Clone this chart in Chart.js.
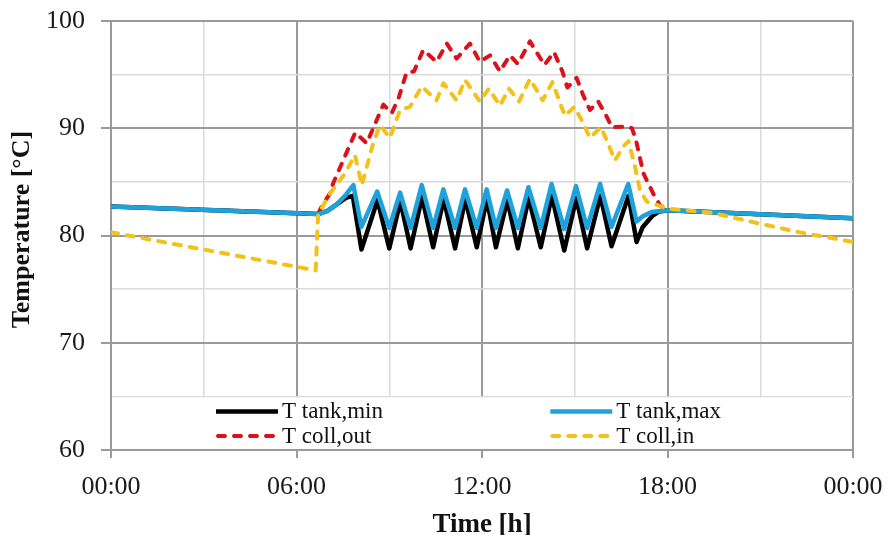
<!DOCTYPE html>
<html>
<head>
<meta charset="utf-8">
<script src="https://cdn.jsdelivr.net/npm/chart.js@4"></script>
<style>
  body { margin: 0; background: #fff; }
</style>
</head>
<body>
<canvas id="chart" width="888" height="535"></canvas>
<script>
// Series, hour of day -> temperature in degC
var tankMinHours = [0, 6.7, 7.0, 7.3, 7.6, 7.82, 8.1, 8.62, 9.0, 9.36, 9.69, 10.06, 10.42, 10.76, 11.13, 11.46, 11.83, 12.16, 12.45, 12.82, 13.16, 13.51, 13.9, 14.26, 14.66, 15.05, 15.4, 15.83, 16.19, 16.74, 17.0, 17.2, 17.5, 17.7, 18.0, 24];
var tankMinTemp  = [82.7, 82.0, 82.3, 82.9, 83.5, 83.7, 78.7, 83.3, 78.8, 83.2, 78.8, 83.6, 78.9, 83.4, 78.8, 83.4, 78.9, 83.4, 78.9, 83.3, 78.8, 83.5, 78.9, 83.7, 78.6, 83.5, 78.8, 83.7, 79.0, 83.7, 79.4, 80.8, 81.8, 82.2, 82.35, 81.6];

var tankMaxHours = [0, 6.7, 7.0, 7.3, 7.6, 7.84, 8.1, 8.61, 9.0, 9.35, 9.69, 10.05, 10.42, 10.75, 11.13, 11.45, 11.83, 12.15, 12.45, 12.81, 13.16, 13.5, 13.9, 14.25, 14.66, 15.04, 15.4, 15.82, 16.19, 16.73, 17.0, 17.2, 17.5, 18.0, 24];
var tankMaxTemp  = [82.7, 82.0, 82.3, 82.9, 83.8, 84.7, 80.8, 84.1, 80.7, 84.0, 80.7, 84.7, 80.7, 84.3, 80.7, 84.3, 80.7, 84.3, 80.7, 84.2, 80.7, 84.5, 80.7, 84.8, 80.6, 84.6, 80.7, 84.8, 80.8, 84.8, 81.3, 81.8, 82.2, 82.35, 81.6];

var collOutHours = [0, 6.7, 6.81, 7.08, 7.19, 7.51, 7.9, 8.27, 8.81, 9.08, 9.3, 9.56, 9.8, 10.1, 10.53, 10.86, 11.18, 11.61, 11.93, 12.26, 12.58, 12.9, 13.16, 13.55, 14.02, 14.33, 14.6, 14.76, 15.06, 15.27, 15.49, 15.76, 16.03, 16.2, 16.68, 16.85, 16.98, 17.22, 17.54, 17.76, 18.0, 24];
var collOutTemp  = [82.7, 82.0, 82.7, 83.9, 84.9, 87.0, 89.6, 88.6, 92.2, 91.4, 92.8, 95.2, 95.3, 97.3, 96.2, 97.9, 96.5, 97.9, 96.2, 96.8, 95.3, 96.8, 96.0, 98.1, 95.9, 97.1, 95.3, 93.8, 94.7, 93.1, 91.7, 92.5, 91.1, 90.1, 90.15, 90.0, 88.9, 85.8, 83.9, 82.8, 82.35, 81.6];

var collInHours = [0, 6.62, 6.7, 7.08, 7.57, 7.89, 8.11, 8.48, 8.7, 9.02, 9.35, 9.67, 10.05, 10.53, 10.75, 11.18, 11.45, 11.93, 12.22, 12.58, 12.87, 13.2, 13.55, 13.96, 14.28, 14.68, 14.99, 15.27, 15.49, 15.85, 16.03, 16.3, 16.57, 16.74, 16.95, 17.11, 17.33, 17.65, 18.0, 19.47, 20.99, 22.18, 24];
var collInTemp  = [80.3, 76.75, 82.0, 83.9, 85.8, 87.5, 84.7, 88.6, 90.3, 89.1, 91.7, 92.0, 93.9, 92.6, 94.2, 92.6, 94.5, 92.5, 93.7, 92.1, 93.7, 92.5, 94.6, 92.6, 94.3, 91.15, 92.0, 90.5, 89.1, 90.1, 88.9, 87.0, 88.3, 88.8, 86.4, 84.2, 83.15, 82.85, 82.5, 82.1, 81.1, 80.35, 79.4];

var seriesLabels = ['T tank,min', 'T tank,max', 'T coll,out', 'T coll,in'];

var xTickHours  = [0, 6, 12, 18, 24];
var xTickLabels = ['00:00', '06:00', '12:00', '18:00', '00:00'];
var xTitle = 'Time [h]';
var yTitle = 'Temperature [°C]';

var majorGrid = '#9a9a9a';
var minorGrid = '#dadada';
var serif = '"Liberation Serif", "Times New Roman", serif';

function pairs(hours, temps) {
  return hours.map(function (h, i) { return { x: h, y: temps[i] }; });
}

// legend sits in a white strip at the bottom of the plot, plus the axis titles
var legendStrip = {
  id: 'legendStrip',
  beforeDatasetsDraw: function (chart) {
    var ctx = chart.ctx, a = chart.chartArea;
    var top = chart.scales.y.getPixelForValue(65);
    ctx.save();
    ctx.fillStyle = '#fff';
    ctx.fillRect(a.left + 1, top + 1, a.right - a.left - 2, a.bottom - top - 2);
    ctx.restore();
  },
  afterDraw: function (chart) {
    var ctx = chart.ctx, a = chart.chartArea;
    var top = chart.scales.y.getPixelForValue(65);
    var h = a.bottom - top, w = a.right - a.left;
    var cols = [a.left + w * 0.1415, a.left + w * 0.592];
    var rows = [top + h * 0.28, top + h * 0.74];
    ctx.save();
    chart.data.datasets.forEach(function (ds, i) {
      var x = cols[i % 2], y = rows[Math.floor(i / 2)];
      ctx.beginPath();
      ctx.strokeStyle = ds.borderColor;
      ctx.lineWidth = ds.borderWidth;
      ctx.lineCap = ds.borderDash ? 'round' : 'butt';
      ctx.setLineDash(ds.borderDash || []);
      ctx.moveTo(x + (ds.borderDash ? 2 : 0), y);
      ctx.lineTo(x + 62, y);
      ctx.stroke();
      ctx.setLineDash([]);
      ctx.fillStyle = '#111';
      ctx.font = '23px ' + serif;
      ctx.textAlign = 'left';
      ctx.textBaseline = 'middle';
      ctx.fillText(ds.label, x + 66, y + 1);
    });

    ctx.fillStyle = '#111';
    ctx.font = 'bold 27px ' + serif;
    ctx.textAlign = 'center';
    ctx.textBaseline = 'alphabetic';
    ctx.fillText(xTitle, (a.left + a.right) / 2, 532);

    ctx.translate(22, (a.top + a.bottom) / 2 - 6);
    ctx.rotate(-Math.PI / 2);
    ctx.font = 'bold 26px ' + serif;
    ctx.textBaseline = 'middle';
    ctx.fillText(yTitle, 0, 0);
    ctx.restore();
  }
};

new Chart(document.getElementById('chart'), {
  type: 'line',
  data: {
    datasets: [
      { label: seriesLabels[0], data: pairs(tankMinHours, tankMinTemp), borderColor: '#000000', borderWidth: 4.5, order: 2 },
      { label: seriesLabels[1], data: pairs(tankMaxHours, tankMaxTemp), borderColor: '#1ea2dc', borderWidth: 4.5, order: 1 },
      { label: seriesLabels[2], data: pairs(collOutHours, collOutTemp), borderColor: '#d9121b', borderWidth: 4, borderDash: [7, 9], borderCapStyle: 'round', order: 3 },
      { label: seriesLabels[3], data: pairs(collInHours, collInTemp), borderColor: '#f2c21b', borderWidth: 4, borderDash: [7, 9], borderCapStyle: 'round', order: 0 }
    ]
  },
  options: {
    responsive: false,
    animation: false,
    devicePixelRatio: 1,
    layout: { padding: { top: 21, right: 35, left: 0, bottom: 0 } },
    elements: {
      point: { radius: 0 },
      line: { tension: 0, borderJoinStyle: 'round', fill: false }
    },
    plugins: { legend: { display: false }, tooltip: { enabled: false } },
    scales: {
      x: {
        type: 'linear', min: 0, max: 24,
        // fixed axis band; end labels may overhang into the margins
        afterFit: function (s) { s.height = 85; s.paddingLeft = 0; s.paddingRight = 0; },
        ticks: {
          stepSize: 3, autoSkip: false, maxRotation: 0, padding: 14,
          color: '#1a1a1a', font: { family: serif, size: 26 },
          callback: function (v) {
            var k = xTickHours.indexOf(v);
            return k >= 0 ? xTickLabels[k] : '';
          }
        },
        grid: {
          color: function (c) { return c.tick && c.tick.value % 6 === 0 ? majorGrid : minorGrid; },
          lineWidth: function (c) { return c.tick && c.tick.value % 6 === 0 ? 2 : 1.5; },
          tickLength: 8,
          tickWidth: 2,
          tickColor: function (c) { return c.tick && c.tick.value % 6 === 0 ? majorGrid : 'rgba(0,0,0,0)'; }
        },
        border: { display: true, color: majorGrid, width: 2 }
      },
      y: {
        min: 60, max: 100,
        afterFit: function (s) { s.width = 111; s.paddingTop = 0; s.paddingBottom = 0; },
        ticks: {
          stepSize: 5, autoSkip: false, padding: 16,
          color: '#1a1a1a', font: { family: serif, size: 26 },
          callback: function (v) { return v % 10 === 0 ? v : ''; }
        },
        grid: {
          color: function (c) { return c.tick && c.tick.value % 10 === 0 ? majorGrid : minorGrid; },
          lineWidth: function (c) { return c.tick && c.tick.value % 10 === 0 ? 2 : 1.5; },
          tickLength: 10,
          tickWidth: 2,
          tickColor: function (c) { return c.tick && c.tick.value % 10 === 0 ? majorGrid : 'rgba(0,0,0,0)'; }
        },
        border: { display: true, color: majorGrid, width: 2 }
      }
    }
  },
  plugins: [legendStrip]
});
</script>
</body>
</html>
